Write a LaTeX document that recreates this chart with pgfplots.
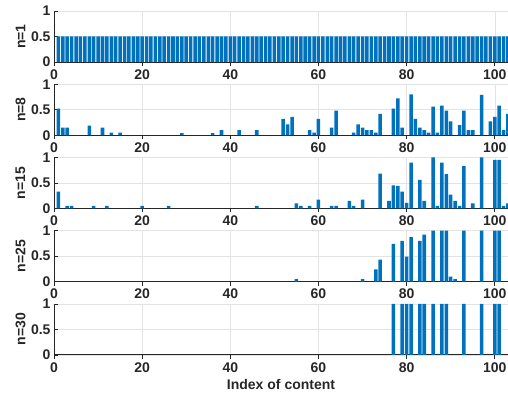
\documentclass[border=0pt]{standalone}
\usepackage{fontspec}
\setmainfont{Liberation Sans}
\usepackage{pgfplots}
\pgfplotsset{compat=1.18}
\definecolor{mblue}{RGB}{0,114,189}
\definecolor{axgray}{RGB}{38,38,38}
\pgfplotsset{
  layers/mylayers/.define layer set={axis background,axis grid,main,axis ticks,axis lines,axis tick labels,axis descriptions,axis foreground}{},
  panel/.style={
    set layers=mylayers,
    scale only axis, width=454pt, height=51pt,
    xmin=0, xmax=103, ymin=0, ymax=1,
    axis x line=bottom, axis y line=left,
    axis line style={-, axgray, line width=0.8pt},
    tick align=inside,
    xtick={0,20,...,100}, ytick={0,0.5,1},
    grid=major, grid style={gray!22, line width=0.5pt},
    tick style={axgray, line width=0.6pt}, major tick length=4pt,
    ticklabel style={font=\bfseries\fontsize{14}{14}\selectfont, text=axgray},
    /pgf/number format/assume math mode=true,
    ylabel style={font=\bfseries\fontsize{14}{14}\selectfont, text=axgray, at={(axis description cs:0,0.5)}, rotate=0, anchor=center, yshift=33.5pt},
    xlabel style={font=\bfseries\fontsize{14}{14}\selectfont, text=axgray},
    ybar, bar width=0.8,
  },
  mybar/.style={fill=mblue, draw=none},
}
\begin{document}
\begin{tikzpicture}
% n=1
\begin{axis}[panel, at={(54pt,-11pt)}, anchor=north west, ylabel={n=1}]
\addplot[mybar] coordinates {(1,0.5)(2,0.5)(3,0.5)(4,0.5)(5,0.5)(6,0.5)(7,0.5)(8,0.5)(9,0.5)(10,0.5)
(11,0.5)(12,0.5)(13,0.5)(14,0.5)(15,0.5)(16,0.5)(17,0.5)(18,0.5)(19,0.5)(20,0.5)
(21,0.5)(22,0.5)(23,0.5)(24,0.5)(25,0.5)(26,0.5)(27,0.5)(28,0.5)(29,0.5)(30,0.5)
(31,0.5)(32,0.5)(33,0.5)(34,0.5)(35,0.5)(36,0.5)(37,0.5)(38,0.5)(39,0.5)(40,0.5)
(41,0.5)(42,0.5)(43,0.5)(44,0.5)(45,0.5)(46,0.5)(47,0.5)(48,0.5)(49,0.5)(50,0.5)
(51,0.5)(52,0.5)(53,0.5)(54,0.5)(55,0.5)(56,0.5)(57,0.5)(58,0.5)(59,0.5)(60,0.5)
(61,0.5)(62,0.5)(63,0.5)(64,0.5)(65,0.5)(66,0.5)(67,0.5)(68,0.5)(69,0.5)(70,0.5)
(71,0.5)(72,0.5)(73,0.5)(74,0.5)(75,0.5)(76,0.5)(77,0.5)(78,0.5)(79,0.5)(80,0.5)
(81,0.5)(82,0.5)(83,0.5)(84,0.5)(85,0.5)(86,0.5)(87,0.5)(88,0.5)(89,0.5)(90,0.5)
(91,0.5)(92,0.5)(93,0.5)(94,0.5)(95,0.5)(96,0.5)(97,0.5)(98,0.5)(99,0.5)(100,0.5)
(101,0.5)(102,0.5)(103,0.5)};
\end{axis}
% n=8
\begin{axis}[panel, at={(54pt,-84.2pt)}, anchor=north west, ylabel={n=8}]
\addplot[mybar] coordinates {(1,0.52)(2,0.15)(3,0.15)(8,0.19)(11,0.15)(13,0.05)(15,0.05)(29,0.04)(36,0.04)(38,0.1)
(42,0.1)(46,0.1)(52,0.32)(53,0.21)(54,0.36)(58,0.1)(59,0.05)(60,0.32)(63,0.15)(64,0.48)
(68,0.05)(69,0.21)(70,0.15)(71,0.1)(72,0.1)(73,0.05)(74,0.42)(77,0.52)(78,0.72)(79,0.15)
(81,0.8)(82,0.32)(83,0.15)(84,0.1)(85,0.05)(86,0.56)(87,0.05)(88,0.58)(89,0.48)(90,0.27)
(92,0.2)(93,0.48)(94,0.1)(95,0.1)(97,0.79)(99,0.27)(100,0.36)(101,0.58)(102,0.1)(103,0.42)};
\end{axis}
% n=15
\begin{axis}[panel, at={(54pt,-157.4pt)}, anchor=north west, ylabel={n=15}]
\addplot[mybar] coordinates {(1,0.33)(3,0.05)(4,0.05)(9,0.05)(12,0.05)(20,0.05)(26,0.05)(46,0.05)(55,0.1)(56,0.05)
(58,0.05)(60,0.17)(63,0.05)(64,0.05)(67,0.15)(68,0.05)(70,0.17)(74,0.68)(76,0.15)(77,0.45)
(78,0.44)(79,0.33)(80,0.11)(81,0.9)(83,0.56)(84,0.15)(86,1.0)(87,0.05)(88,0.9)(89,0.67)
(90,0.27)(91,0.15)(92,0.05)(93,0.83)(95,0.1)(97,1.0)(100,0.95)(101,0.95)(102,0.05)(103,0.1)};
\end{axis}
% n=25
\begin{axis}[panel, at={(54pt,-230.6pt)}, anchor=north west, ylabel={n=25}]
\addplot[mybar] coordinates {(55,0.05)(70,0.05)(73,0.24)(74,0.43)(77,0.74)(79,0.8)(80,0.49)(81,0.87)(83,0.8)(84,0.92)
(86,1)(88,1)(89,1)(90,0.1)(91,0.05)(93,1)(97,1)(100,1)(101,1)};
\end{axis}
% n=30
\begin{axis}[panel, at={(54pt,-303.8pt)}, anchor=north west, ylabel={n=30}, xlabel={Index of content}]
\addplot[mybar] coordinates {(77,1)(79,1)(80,1)(81,1)(83,1)(84,1)(86,1)(88,1)(89,1)(93,1)(97,1)(100,1)(101,1)};
\end{axis}
\pgfresetboundingbox
\useasboundingbox (0,0) rectangle (508pt,-396pt);
\end{tikzpicture}
\end{document}
